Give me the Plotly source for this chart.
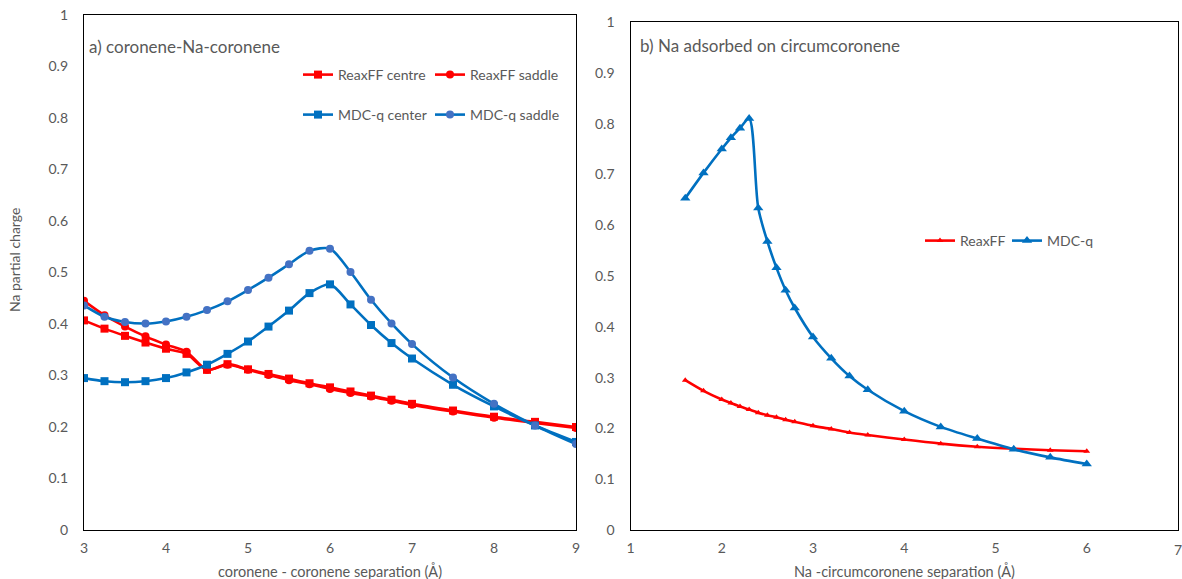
import plotly.graph_objects as go

# ---------------- data ----------------
x_left = [3, 3.25, 3.5, 3.75, 4, 4.25, 4.5, 4.75, 5, 5.25, 5.5, 5.75, 6,
          6.25, 6.5, 6.75, 7, 7.5, 8, 8.5, 9]
reax_centre = [0.407, 0.391, 0.377, 0.364, 0.352, 0.342, 0.311, 0.322, 0.312,
               0.303, 0.294, 0.285, 0.277, 0.269, 0.261, 0.253, 0.245, 0.232,
               0.220, 0.210, 0.200]
reax_saddle = [0.445, 0.417, 0.395, 0.376, 0.360, 0.346, 0.311, 0.321, 0.311,
               0.301, 0.291, 0.283, 0.274, 0.266, 0.259, 0.251, 0.243, 0.230,
               0.218, 0.208, 0.198]
mdc_center = [0.295, 0.289, 0.287, 0.289, 0.295, 0.306, 0.321, 0.342, 0.366,
              0.395, 0.426, 0.460, 0.477, 0.438, 0.398, 0.363, 0.333, 0.282,
              0.240, 0.203, 0.171]
mdc_saddle = [0.436, 0.414, 0.404, 0.401, 0.405, 0.414, 0.427, 0.444, 0.466,
              0.490, 0.516, 0.542, 0.546, 0.501, 0.447, 0.401, 0.361, 0.296,
              0.245, 0.203, 0.167]

x_right = [1.6, 1.8, 2.0, 2.1, 2.2, 2.3, 2.4, 2.5, 2.6, 2.7, 2.8, 3.0, 3.2,
           3.4, 3.6, 4.0, 4.4, 4.8, 5.2, 5.6, 6.0]
reax_circ = [0.295, 0.274, 0.257, 0.250, 0.243, 0.237, 0.231, 0.226, 0.222,
             0.217, 0.213, 0.205, 0.199, 0.192, 0.187, 0.178, 0.170, 0.164,
             0.160, 0.157, 0.155]
mdc_circ = [0.653, 0.703, 0.750, 0.772, 0.791, 0.810, 0.634, 0.568, 0.516,
            0.472, 0.437, 0.380, 0.338, 0.303, 0.276, 0.234, 0.203, 0.180,
            0.159, 0.143, 0.130]

y_ticks = [0, 0.1, 0.2, 0.3, 0.4, 0.5, 0.6, 0.7, 0.8, 0.9, 1]
y_tick_text = ["0", "0.1", "0.2", "0.3", "0.4", "0.5", "0.6", "0.7", "0.8", "0.9", "1"]
x_left_ticks = [3, 4, 5, 6, 7, 8, 9]
x_right_ticks = [1, 2, 3, 4, 5, 6, 7]

# ---------------- styling ----------------
RED = "#FF0000"
BLUE = "#0070C0"
BLUE2 = "#4472C4"
GRAY = "#595959"
FONT = "Lato"
W, H = 1182, 579

fig = go.Figure()

def line(shape_w=2.5, color=RED):
    return dict(color=color, width=shape_w, shape="spline", smoothing=0.8)

fig.add_trace(go.Scatter(x=x_left, y=reax_centre, name="ReaxFF centre",
                         mode="lines+markers", line=line(2.6, RED),
                         marker=dict(symbol="square", size=8, color=RED),
                         xaxis="x", yaxis="y", legend="legend"))
fig.add_trace(go.Scatter(x=x_left, y=reax_saddle, name="ReaxFF saddle",
                         mode="lines+markers", line=line(2.6, RED),
                         marker=dict(symbol="circle", size=8, color=RED),
                         xaxis="x", yaxis="y", legend="legend"))
fig.add_trace(go.Scatter(x=x_left, y=mdc_center, name="MDC-q center",
                         mode="lines+markers", line=line(2.6, BLUE),
                         marker=dict(symbol="square", size=8, color=BLUE),
                         xaxis="x", yaxis="y", legend="legend2"))
fig.add_trace(go.Scatter(x=x_left, y=mdc_saddle, name="MDC-q saddle",
                         mode="lines+markers", line=line(2.6, BLUE),
                         marker=dict(symbol="circle", size=8, color=BLUE2),
                         xaxis="x", yaxis="y", legend="legend2"))

fig.add_trace(go.Scatter(x=x_right, y=reax_circ, name="ReaxFF",
                         mode="lines+markers", line=line(2.6, RED),
                         marker=dict(symbol="triangle-up", size=6, color=RED),
                         xaxis="x2", yaxis="y2", legend="legend3"))
fig.add_trace(go.Scatter(x=x_right, y=mdc_circ, name="MDC-q",
                         mode="lines+markers", line=line(2.6, BLUE),
                         marker=dict(symbol="triangle-up", size=9, color=BLUE),
                         xaxis="x2", yaxis="y2", legend="legend3"))

def px(v):
    return v / W

def py(v):
    return 1 - v / H

axis_common = dict(showgrid=False, zeroline=False, showline=True, mirror=True,
                   linecolor="#000000", linewidth=1.3, ticks="",
                   tickfont=dict(family=FONT, size=14, color=GRAY),
                   automargin=False)

leg_font = dict(family=FONT, size=14, color=GRAY)

fig.update_layout(
    width=W, height=H,
    margin=dict(l=0, r=0, t=0, b=0),
    paper_bgcolor="white", plot_bgcolor="white",
    font=dict(family=FONT, color=GRAY),
    xaxis=dict(domain=[px(84), px(576)], range=[3, 9], tickvals=x_left_ticks,
               ticklabelstandoff=5, anchor="y", **axis_common),
    yaxis=dict(domain=[py(530), py(15)], range=[0, 1], tickvals=y_ticks,
               ticktext=y_tick_text, ticklabelstandoff=12, anchor="x",
               **axis_common),
    xaxis2=dict(domain=[px(630.5), px(1178)], range=[1, 7], tickvals=x_right_ticks,
                ticklabelstandoff=5, anchor="y2", **axis_common),
    yaxis2=dict(domain=[py(530), py(22)], range=[0, 1], tickvals=y_ticks,
                ticktext=y_tick_text, ticklabelstandoff=12, anchor="x2",
                **axis_common),
    legend=dict(orientation="h", x=px(298), y=py(75), xanchor="left", yanchor="middle",
                font=leg_font, entrywidth=87, entrywidthmode="pixels", itemwidth=30,
                bgcolor="rgba(0,0,0,0)"),
    legend2=dict(orientation="h", x=px(298), y=py(115), xanchor="left", yanchor="middle",
                 font=leg_font, entrywidth=87, entrywidthmode="pixels", itemwidth=30,
                 bgcolor="rgba(0,0,0,0)"),
    legend3=dict(orientation="h", x=px(920), y=py(241), xanchor="left", yanchor="middle",
                 font=leg_font, entrywidth=42, entrywidthmode="pixels", itemwidth=30,
                 bgcolor="rgba(0,0,0,0)"),
    annotations=[
        dict(text="a) coronene-Na-coronene", x=px(87), y=py(47), xref="paper", yref="paper",
             xanchor="left", yanchor="middle", showarrow=False,
             font=dict(family=FONT, size=17, color=GRAY)),
        dict(text="b) Na adsorbed on circumcoronene", x=px(638), y=py(45), xref="paper",
             yref="paper", xanchor="left", yanchor="middle", showarrow=False,
             font=dict(family=FONT, size=17, color=GRAY)),
        dict(text="Na partial charge", x=px(14), y=py(260), xref="paper", yref="paper",
             xanchor="center", yanchor="middle", showarrow=False, textangle=-90,
             font=dict(family=FONT, size=14, color=GRAY)),
        dict(text="coronene - coronene separation (Å)", x=px(330), y=py(571),
             xref="paper", yref="paper", xanchor="center", yanchor="middle",
             showarrow=False, font=dict(family=FONT, size=14.5, color=GRAY)),
        dict(text="Na -circumcoronene separation (Å)", x=px(904), y=py(571),
             xref="paper", yref="paper", xanchor="center", yanchor="middle",
             showarrow=False, font=dict(family=FONT, size=14.5, color=GRAY)),
        dict(text="7", x=7, y=0, xref="x2", yref="y2", xanchor="center", yanchor="top",
             yshift=-9, showarrow=False, font=dict(family=FONT, size=14, color=GRAY)),
    ],
)

fig.write_html("out.html")
